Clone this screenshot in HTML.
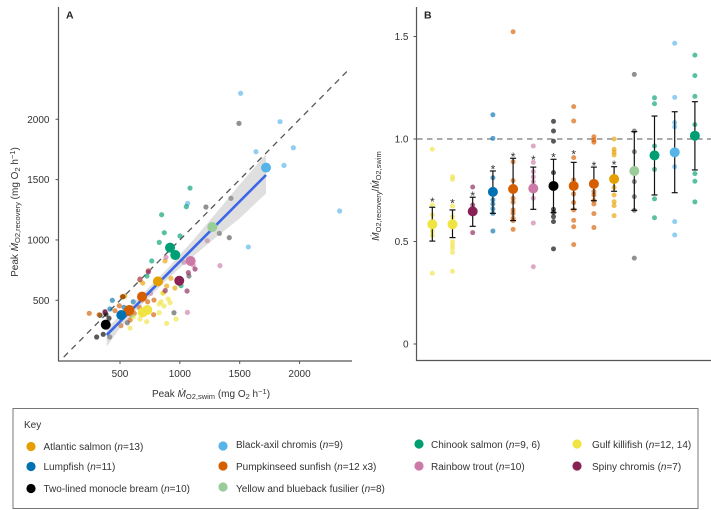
<!DOCTYPE html>
<html lang="en">
<head>
<meta charset="utf-8">
<title>Peak oxygen uptake during swim and recovery</title>
<style>
html,body{margin:0;padding:0;background:#fff;width:711px;height:510px;overflow:hidden}
svg{display:block;font-family:"Liberation Sans","DejaVu Sans",sans-serif;fill:#333}
text{font-size:10px}
</style>
</head>
<body>
<svg id="figure" width="711" height="510" viewBox="0 0 711 510" xmlns="http://www.w3.org/2000/svg">
  <g id="panelA"></g>
  <g id="panelB"></g>

  <text x="66" y="18.5" style="font-weight:700;font-size:10.5px" fill="#222">A</text>
  <text x="424" y="18.5" style="font-weight:700;font-size:10.5px" fill="#222">B</text>

  <text x="211" y="397" text-anchor="middle">Peak <tspan font-style="italic">Ṁ</tspan><tspan dy="2" style="font-size:7.5px">O2,swim</tspan><tspan dy="-2"> (mg O</tspan><tspan dy="2" style="font-size:7.5px">2</tspan><tspan dy="-2"> h</tspan><tspan dy="-3" style="font-size:7.5px">−1</tspan><tspan dy="3">)</tspan></text>
  <text transform="translate(18,212) rotate(-90)" text-anchor="middle">Peak <tspan font-style="italic">Ṁ</tspan><tspan dy="2" style="font-size:7.5px">O2,recovery</tspan><tspan dy="-2"> (mg O</tspan><tspan dy="2" style="font-size:7.5px">2</tspan><tspan dy="-2"> h</tspan><tspan dy="-3" style="font-size:7.5px">−1</tspan><tspan dy="3">)</tspan></text>
  <text transform="translate(379,196) rotate(-90)" text-anchor="middle"><tspan font-style="italic">Ṁ</tspan><tspan dy="2" style="font-size:7.5px">O2,recovery</tspan><tspan dy="-2">/</tspan><tspan font-style="italic">Ṁ</tspan><tspan dy="2" style="font-size:7.5px">O2,swim</tspan></text>

  <g>
    <rect x="13" y="408.5" width="685" height="100" fill="#fff" stroke="#777" stroke-width="1"/>
    <text x="24" y="428">Key</text>

    <circle cx="31" cy="446.5" r="4.6" fill="#E69F00"/>
    <text x="43.5" y="450">Atlantic salmon (<tspan font-style="italic">n</tspan>=13)</text>
    <circle cx="31" cy="466.5" r="4.6" fill="#0072B2"/>
    <text x="43.5" y="470">Lumpfish (<tspan font-style="italic">n</tspan>=11)</text>
    <circle cx="31" cy="488.5" r="4.6" fill="#000"/>
    <text x="43.5" y="492">Two-lined monocle bream (<tspan font-style="italic">n</tspan>=10)</text>

    <circle cx="223" cy="446" r="4.6" fill="#56B4E9"/>
    <text x="236" y="448">Black-axil chromis (<tspan font-style="italic">n</tspan>=9)</text>
    <circle cx="223" cy="466" r="4.6" fill="#D55E00"/>
    <text x="236" y="470">Pumpkinseed sunfish (<tspan font-style="italic">n</tspan>=12 x3)</text>
    <circle cx="223" cy="487" r="4.6" fill="#99CC99"/>
    <text x="236" y="492">Yellow and blueback fusilier (<tspan font-style="italic">n</tspan>=8)</text>

    <circle cx="419" cy="444" r="4.6" fill="#009E73"/>
    <text x="431" y="448">Chinook salmon (<tspan font-style="italic">n</tspan>=9, 6)</text>
    <circle cx="419" cy="466" r="4.6" fill="#CC79A7"/>
    <text x="431" y="470">Rainbow trout (<tspan font-style="italic">n</tspan>=10)</text>

    <circle cx="577" cy="444" r="4.6" fill="#F0E442"/>
    <text x="592" y="448">Gulf killifish (<tspan font-style="italic">n</tspan>=12, 14)</text>
    <circle cx="577" cy="466" r="4.6" fill="#882255"/>
    <text x="592" y="470">Spiny chromis (<tspan font-style="italic">n</tspan>=7)</text>
  </g>
</svg>

<script>
// ---------- Panel A data (mg O2 per hour) ----------
const axisTicksA = [500, 1000, 1500, 2000];
const identityRange = [30, 2410];
const fitSwim = [389, 1720];
const fitRecovery = [213, 1538];
const ribbonSwim = [389, 500, 667, 900, 1100, 1300, 1500, 1720];
const ribbonLow = [116, 273, 450, 677, 856, 1020, 1179, 1386];
const ribbonHigh = [271, 373, 530, 767, 986, 1220, 1459, 1712];

const colorNames = ['atlantic-salmon', 'lumpfish', 'two-lined-monocle-bream', 'black-axil-chromis', 'pumpkinseed-sunfish', 'fusilier', 'chinook-salmon', 'rainbow-trout', 'gulf-killifish', 'spiny-chromis'];
const pointColors = ['#E69F00', '#0072B2', '#000000', '#56B4E9', '#D55E00', '#555555', '#009E73', '#CC79A7', '#F0E442', '#882255'];
const meanColors = ['#E69F00', '#0072B2', '#000000', '#56B4E9', '#D55E00', '#99CC99', '#009E73', '#CC79A7', '#F0E442', '#882255'];

const atlanticSwim = [876, 926, 690, 667, 890, 959, 862, 527, 681, 540];
const atlanticRec = [826, 682, 643, 668, 618, 602, 563, 530, 502, 535];
const lumpfishSwim = [436, 416, 533, 611, 556, 598];
const lumpfishRec = [500, 428, 442, 488, 406, 378];
const breamSwim = [305, 360, 333, 375, 408, 523, 383, 667];
const breamRec = [196, 218, 376, 400, 351, 530, 384, 674];
const chromisSwim = [1508, 1837, 1948, 1636, 1870, 2335, 1572, 1065];
const chromisRec = [2215, 1980, 1764, 1731, 1618, 1240, 942, 1303];
const sunfishSwim = [243, 325, 494, 458, 784, 731, 781, 508, 619, 519, 667, 736, 661, 584];
const sunfishRec = [392, 381, 455, 414, 502, 488, 381, 290, 392, 530, 676, 745, 442, 337];
const fusilierSwim = [1494, 1427, 1218, 1330, 1413, 1076, 951, 561, 414];
const fusilierRec = [1966, 1345, 1273, 1055, 1019, 701, 397, 314, 196];
const chinookSwim = [1085, 848, 1054, 870, 1001, 828, 765, 725, 1010];
const chinookRec = [1430, 1209, 1276, 1060, 1033, 980, 826, 701, 621];
const troutSwim = [1335, 1229, 1063, 884, 1035, 1112, 740, 756, 667];
const troutRec = [787, 994, 400, 856, 815, 792, 743, 558, 676];
const killifishSwim = [890, 968, 723, 584, 843, 903, 828, 918, 868, 828, 667, 857, 611];
const killifishRec = [309, 345, 323, 270, 488, 511, 469, 480, 453, 397, 345, 558, 364];
const spinySwim = [1127, 1071, 1060, 878, 736, 375];
const spinyRec = [759, 729, 577, 580, 735, 406];

const swimBySpecies = [atlanticSwim, lumpfishSwim, breamSwim, chromisSwim, sunfishSwim, fusilierSwim, chinookSwim, troutSwim, killifishSwim, spinySwim];
const recBySpecies = [atlanticRec, lumpfishRec, breamRec, chromisRec, sunfishRec, fusilierRec, chinookRec, troutRec, killifishRec, spinyRec];

const meanSpecies = [4, 4, 4, 1, 2, 8, 8, 9, 0, 7, 6, 6, 5, 3];
const meanSwim = [684, 578, 569, 511, 381, 728, 690, 995, 817, 1090, 918, 962, 1271, 1720];
const meanRec = [530, 420, 411, 378, 298, 420, 400, 662, 657, 826, 936, 875, 1107, 1599];

// ---------- Panel B data (ratio) ----------
const axisTicksB = [0, 0.5, 1.0, 1.5];
const tickLabelsB = ['0', '0.5', '1.0', '1.5'];
const referenceRatio = 1.0;
const groupSpecies = [8, 8, 9, 1, 4, 7, 2, 4, 4, 0, 5, 6, 3, 6];
const groupMeans = [0.584, 0.584, 0.647, 0.742, 0.756, 0.759, 0.771, 0.771, 0.781, 0.805, 0.844, 0.920, 0.935, 1.016];
const groupUpper = [0.667, 0.654, 0.716, 0.844, 0.906, 0.863, 0.901, 0.886, 0.863, 0.865, 1.036, 1.112, 1.133, 1.182];
const groupLower = [0.502, 0.519, 0.574, 0.637, 0.602, 0.657, 0.641, 0.657, 0.699, 0.745, 0.652, 0.727, 0.738, 0.849];
const groupStars = [0.707, 0.701, 0.737, 0.865, 0.927, 0.912, 0.924, 0.940, 0.883, 0.888, null, null, null, null];
const ratios1 = [0.950, 0.678, 0.630, 0.600, 0.590, 0.570, 0.550, 0.530, 0.345];
const ratios2 = [0.816, 0.803, 0.673, 0.620, 0.570, 0.499, 0.483, 0.467, 0.447, 0.355];
const ratios3 = [0.766, 0.678, 0.660, 0.543];
const ratios4 = [1.118, 1.003, 0.811, 0.703, 0.683, 0.659, 0.637, 0.551];
const ratios5 = [1.523, 0.889, 0.797, 0.711, 0.692, 0.654, 0.637, 0.613, 0.602, 0.559];
const ratios6 = [0.966, 0.886, 0.841, 0.815, 0.792, 0.711, 0.590, 0.377];
const ratios7 = [1.086, 1.039, 0.989, 0.836, 0.657, 0.642, 0.621, 0.597, 0.464];
const ratios8 = [1.158, 1.088, 0.909, 0.800, 0.732, 0.690, 0.654, 0.603, 0.572, 0.485];
const ratios9 = [1.011, 0.995, 0.984, 0.743, 0.727, 0.700, 0.683, 0.636, 0.568];
const ratios10 = [1.000, 0.950, 0.936, 0.922, 0.764, 0.727, 0.694, 0.675, 0.626];
const ratios11 = [1.315, 1.039, 0.938, 0.792, 0.719, 0.652, 0.419];
const ratios12 = [1.201, 1.172, 0.966, 0.852, 0.708, 0.616];
const ratios13 = [1.467, 1.203, 1.080, 1.059, 0.865, 0.597, 0.532];
const ratios14 = [1.409, 1.309, 1.208, 1.070, 0.831, 0.794, 0.693];
const groupRatios = [ratios1, ratios2, ratios3, ratios4, ratios5, ratios6, ratios7, ratios8, ratios9, ratios10, ratios11, ratios12, ratios13, ratios14];

// ---------- Axis functions ----------
function xA(v) { return 120 + (v - 500) * 0.1197; }
function yA(v) { return 300.3 - (v - 500) * 0.1207; }
function xB(i) { return 432.3 + i * 20.2; }
function yB(v) { return 344 - v * 205; }

const NS = 'http://www.w3.org/2000/svg';
function make(parent, tag, attrs, txt) {
  const el = document.createElementNS(NS, tag);
  for (const k in attrs) el.setAttribute(k, attrs[k]);
  if (txt !== undefined) el.textContent = txt;
  parent.appendChild(el);
  return el;
}
const AXIS = '#555';
const a = document.getElementById('panelA');
const b = document.getElementById('panelB');
let el;

// ---------- Panel A ----------
el = make(a, 'line', { x1: 58.5, y1: 7, x2: 58.5, y2: 361, stroke: AXIS, 'stroke-width': 1.2 });


el = make(a, 'line', { x1: 58, y1: 361, x2: 352, y2: 361, stroke: AXIS, 'stroke-width': 1.2 });



axisTicksA.forEach(function (t) {
  let n = make(a, 'line', { x1: xA(t), y1: 361, x2: xA(t), y2: 364, stroke: AXIS, 'stroke-width': 1 });
  
  
  n = make(a, 'text', { x: xA(t), y: 377, 'text-anchor': 'middle' }, String(t));
  
  
  n = make(a, 'line', { x1: 55.5, y1: yA(t), x2: 58.5, y2: yA(t), stroke: AXIS, 'stroke-width': 1 });
  
  
  n = make(a, 'text', { x: 49.5, y: yA(t) + 3.6, 'text-anchor': 'end' }, String(t));
  
  
});

el = make(a, 'line', {
  x1: xA(identityRange[0]), y1: yA(identityRange[0]),
  x2: xA(identityRange[1]), y2: yA(identityRange[1]),
  stroke: '#555', 'stroke-width': 1.3, 'stroke-dasharray': '6 5'
});



swimBySpecies.forEach(function (xs, s) {
  xs.forEach(function (v, i) {
    const p = make(a, 'circle', { cx: xA(v), cy: yA(recBySpecies[s][i]), r: 2.6, fill: pointColors[s], 'fill-opacity': 0.65 });
    
    
  });
});

const upperPts = ribbonSwim.map(function (v, i) { return xA(v) + ',' + yA(ribbonHigh[i]); });
const lowerPts = ribbonSwim.map(function (v, i) { return xA(v) + ',' + yA(ribbonLow[i]); }).reverse();
el = make(a, 'polygon', { points: upperPts.concat(lowerPts).join(' '), fill: '#aaa', 'fill-opacity': 0.38 });



el = make(a, 'line', {
  x1: xA(fitSwim[0]), y1: yA(fitRecovery[0]),
  x2: xA(fitSwim[1]), y2: yA(fitRecovery[1]),
  stroke: '#3A66E8', 'stroke-width': 2.6
});



meanSwim.forEach(function (v, i) {
  const m = make(a, 'circle', { cx: xA(v), cy: yA(meanRec[i]), r: 5, fill: meanColors[meanSpecies[i]] });
  
  
});

// ---------- Panel B ----------
el = make(b, 'line', { x1: 416.5, y1: 7, x2: 416.5, y2: 361, stroke: AXIS, 'stroke-width': 1.2 });


el = make(b, 'line', { x1: 416, y1: 360.5, x2: 711, y2: 360.5, stroke: AXIS, 'stroke-width': 1.2 });



axisTicksB.forEach(function (t, i) {
  let n = make(b, 'line', { x1: 413.5, y1: yB(t), x2: 416.5, y2: yB(t), stroke: AXIS, 'stroke-width': 1 });
  
  
  n = make(b, 'text', { x: 408.5, y: yB(t) + 3.6, 'text-anchor': 'end' }, tickLabelsB[i]);
  
  
});

el = make(b, 'line', { x1: 417, y1: yB(referenceRatio), x2: 711, y2: yB(referenceRatio), stroke: '#555', 'stroke-width': 1, 'stroke-dasharray': '5.5 4.5' });



groupRatios.forEach(function (vals, g) {
  const s = groupSpecies[g];
  const cx = xB(g);
  vals.forEach(function (v) {
    const p = make(b, 'circle', { cx: cx, cy: yB(v), r: 2.5, fill: pointColors[s], 'fill-opacity': 0.65 });
    
    
  });
  let n = make(b, 'line', { x1: cx, y1: yB(groupUpper[g]), x2: cx, y2: yB(groupLower[g]), stroke: '#111', 'stroke-width': 1.2 });
  
  
  n = make(b, 'line', { x1: cx - 3, y1: yB(groupUpper[g]), x2: cx + 3, y2: yB(groupUpper[g]), stroke: '#111', 'stroke-width': 1.2 });
  
  
  n = make(b, 'line', { x1: cx - 3, y1: yB(groupLower[g]), x2: cx + 3, y2: yB(groupLower[g]), stroke: '#111', 'stroke-width': 1.2 });
  
  
  n = make(b, 'circle', { cx: cx, cy: yB(groupMeans[g]), r: 5, fill: meanColors[s] });
  
  
  if (groupStars[g] !== null) {
    n = make(b, 'text', { x: cx, y: yB(groupStars[g]) + 7, 'text-anchor': 'middle', style: 'font-size:12px' }, '*');
    
    
  }
});
</script>
</body>
</html>
